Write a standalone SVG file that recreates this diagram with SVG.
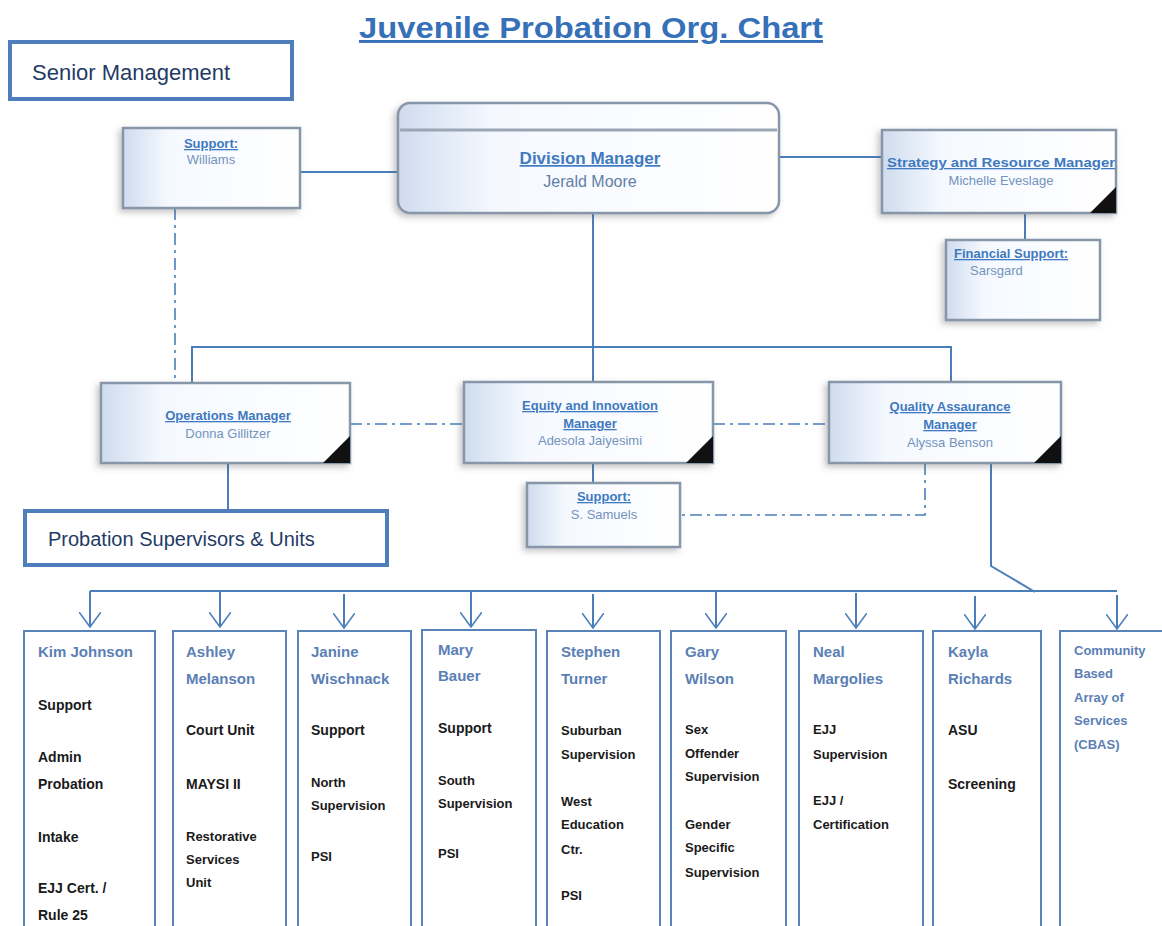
<svg xmlns="http://www.w3.org/2000/svg" width="1162" height="926" viewBox="0 0 1162 926">
<defs>
<linearGradient id="gs" x1="0" y1="0" x2="1" y2="0">
<stop offset="0" stop-color="#cfdcee"/><stop offset="0.25" stop-color="#f5f9ff"/><stop offset="1" stop-color="#ffffff"/>
</linearGradient>
<filter id="sh" x="-10%" y="-10%" width="125%" height="130%">
<feDropShadow dx="-3" dy="3" stdDeviation="3" flood-color="#555" flood-opacity="0.35"/>
</filter>
<marker id="ar" viewBox="0 0 16 22" refX="15" refY="11" markerWidth="16" markerHeight="22" markerUnits="userSpaceOnUse" orient="auto">
<path d="M0,0 L15,11 L0,22" fill="none" stroke="#4a7ebb" stroke-width="1.6"/>
</marker>
</defs>
<style>
.t{font-family:"Liberation Sans",Arial,sans-serif}
.bx{fill:url(#gs);stroke:#8796a8;stroke-width:2.5;filter:url(#sh)}
.ln{fill:none;stroke:#4a7ebb;stroke-width:2}
.dd{fill:none;stroke:#4a7ebb;stroke-width:1.6;stroke-dasharray:12 5 3 5}
.hd{font-family:"Liberation Sans",Arial,sans-serif;font-weight:bold;fill:#3f79c0;text-decoration:underline;font-size:13px}
.nm{font-family:"Liberation Sans",Arial,sans-serif;fill:#7393bd;font-size:13px}
.lb{fill:#fff;stroke:#4f7fba;stroke-width:4}
.col{fill:#fff;stroke:#5a84b8;stroke-width:2}
.cn{font-family:"Liberation Sans",Arial,sans-serif;font-weight:bold;fill:#5b80b5;font-size:15px}
.ci{font-family:"Liberation Sans",Arial,sans-serif;font-weight:bold;fill:#1a1a1a;font-size:14px}
.s13{font-size:13px}
.big{font-size:17px}
.big2{font-size:16px;fill:#5f7fa8}
.cor{fill:#111}
</style>
<rect width="1162" height="926" fill="#fff"/>
<text class="t" x="591" y="38" text-anchor="middle" font-size="29" font-weight="bold" fill="#3570b8" text-decoration="underline" textLength="464" lengthAdjust="spacingAndGlyphs">Juvenile Probation Org. Chart</text>

<g id="connectors">
<path class="ln" d="M300,172 H398"/>
<path class="ln" d="M779,157 H882"/>
<path class="ln" d="M1025,213 V240"/>
<path class="ln" d="M593,213 V347 M192,383 V347 H951 V383 M593,347 V383"/>
<path class="dd" d="M175,208 V382"/>
<path class="dd" d="M350,424 H464"/>
<path class="dd" d="M713,424 H829"/>
<path class="ln" d="M593,463 V483"/>
<path class="dd" d="M925,463 V515 H680"/>
<path class="ln" d="M228,463 V510"/>
<path class="ln" d="M991,463 V566 L1035,592"/>
<path class="ln" d="M90,591 H1117"/>
<path class="ln" marker-end="url(#ar)" d="M90,591 V627"/>
<path class="ln" marker-end="url(#ar)" d="M220,591 V627"/>
<path class="ln" marker-end="url(#ar)" d="M344,594 V628"/>
<path class="ln" marker-end="url(#ar)" d="M471,591 V627"/>
<path class="ln" marker-end="url(#ar)" d="M593,594 V628"/>
<path class="ln" marker-end="url(#ar)" d="M716,591 V628"/>
<path class="ln" marker-end="url(#ar)" d="M856,593 V628"/>
<path class="ln" marker-end="url(#ar)" d="M975,596 V629"/>
<path class="ln" marker-end="url(#ar)" d="M1117,595 V629"/>
</g>

<g id="senior-management">
<rect class="lb" x="10" y="42" width="282" height="57"/>
<text class="t" x="32" y="80" font-size="22" fill="#1f3b66">Senior Management</text>
</g>

<g id="support-williams">
<rect class="bx" x="123" y="128" width="177" height="80"/>
<text class="hd" x="211" y="148" text-anchor="middle">Support:</text>
<text class="nm" x="211" y="164" text-anchor="middle">Williams</text>
</g>

<g id="division-manager">
<rect class="bx" x="398" y="103" width="381" height="110" rx="12"/>
<path d="M400,130 H777" stroke="#9aa6b5" stroke-width="3"/>
<text class="hd big" x="590" y="164" text-anchor="middle">Division Manager</text>
<text class="nm big2" x="590" y="187" text-anchor="middle">Jerald Moore</text>
</g>

<g id="strategy-manager">
<rect class="bx" x="882" y="130" width="234" height="83"/>
<path class="cor" d="M1116,187 V213 H1090 Z"/>
<text class="hd" x="1001" y="167" text-anchor="middle" textLength="228" lengthAdjust="spacingAndGlyphs">Strategy and Resource Manager</text>
<text class="nm" x="1001" y="185" text-anchor="middle">Michelle Eveslage</text>
</g>

<g id="financial-support">
<rect class="bx" x="946" y="240" width="154" height="80"/>
<text class="hd" x="954" y="258">Financial Support:</text>
<text class="nm" x="970" y="275">Sarsgard</text>
</g>

<g id="operations-manager">
<rect class="bx" x="101" y="383" width="249" height="80"/>
<path class="cor" d="M350,436 V463 H323 Z"/>
<text class="hd" x="228" y="420" text-anchor="middle">Operations Manager</text>
<text class="nm" x="228" y="438" text-anchor="middle">Donna Gillitzer</text>
</g>

<g id="equity-manager">
<rect class="bx" x="464" y="382" width="249" height="81"/>
<path class="cor" d="M713,436 V463 H686 Z"/>
<text class="hd" x="590" y="410" text-anchor="middle">Equity and Innovation</text>
<text class="hd" x="590" y="428" text-anchor="middle">Manager</text>
<text class="nm" x="590" y="445" text-anchor="middle">Adesola Jaiyesimi</text>
</g>

<g id="qa-manager">
<rect class="bx" x="829" y="382" width="232" height="81"/>
<path class="cor" d="M1061,436 V463 H1034 Z"/>
<text class="hd" x="950" y="411" text-anchor="middle">Quality Assaurance</text>
<text class="hd" x="950" y="429" text-anchor="middle">Manager</text>
<text class="nm" x="950" y="447" text-anchor="middle">Alyssa Benson</text>
</g>

<g id="support-samuels">
<rect class="bx" x="527" y="483" width="153" height="64"/>
<text class="hd" x="604" y="501" text-anchor="middle">Support:</text>
<text class="nm" x="604" y="519" text-anchor="middle">S. Samuels</text>
</g>

<g id="probation-supervisors">
<rect class="lb" x="25" y="511" width="362" height="54"/>
<text class="t" x="48" y="546" font-size="20" fill="#1f3b66">Probation Supervisors &amp; Units</text>
</g>

<g id="kim-johnson">
<rect class="col" x="24" y="631" width="131" height="310"/>
<text class="cn" x="38" y="657">Kim Johnson</text>
<text class="ci" x="38" y="710">Support</text>
<text class="ci" x="38" y="762">Admin</text>
<text class="ci" x="38" y="789">Probation</text>
<text class="ci" x="38" y="842">Intake</text>
<text class="ci" x="38" y="893">EJJ Cert. /</text>
<text class="ci" x="38" y="920">Rule 25</text>
</g>

<g id="ashley-melanson">
<rect class="col" x="173" y="631" width="113" height="310"/>
<text class="cn" x="186" y="657">Ashley</text>
<text class="cn" x="186" y="684">Melanson</text>
<text class="ci" x="186" y="735">Court Unit</text>
<text class="ci" x="186" y="789">MAYSI II</text>
<text class="ci s13" x="186" y="841">Restorative</text>
<text class="ci s13" x="186" y="864">Services</text>
<text class="ci s13" x="186" y="887">Unit</text>
</g>

<g id="janine-wischnack">
<rect class="col" x="298" y="631" width="113" height="310"/>
<text class="cn" x="311" y="657">Janine</text>
<text class="cn" x="311" y="684">Wischnack</text>
<text class="ci" x="311" y="735">Support</text>
<text class="ci s13" x="311" y="787">North</text>
<text class="ci s13" x="311" y="810">Supervision</text>
<text class="ci s13" x="311" y="861">PSI</text>
</g>

<g id="mary-bauer">
<rect class="col" x="422" y="630" width="114" height="310"/>
<text class="cn" x="438" y="655">Mary</text>
<text class="cn" x="438" y="681">Bauer</text>
<text class="ci" x="438" y="733">Support</text>
<text class="ci s13" x="438" y="785">South</text>
<text class="ci s13" x="438" y="808">Supervision</text>
<text class="ci s13" x="438" y="858">PSI</text>
</g>

<g id="stephen-turner">
<rect class="col" x="547" y="631" width="113" height="310"/>
<text class="cn" x="561" y="657">Stephen</text>
<text class="cn" x="561" y="684">Turner</text>
<text class="ci s13" x="561" y="735">Suburban</text>
<text class="ci s13" x="561" y="759">Supervision</text>
<text class="ci s13" x="561" y="806">West</text>
<text class="ci s13" x="561" y="829">Education</text>
<text class="ci s13" x="561" y="854">Ctr.</text>
<text class="ci s13" x="561" y="900">PSI</text>
</g>

<g id="gary-wilson">
<rect class="col" x="671" y="631" width="115" height="310"/>
<text class="cn" x="685" y="657">Gary</text>
<text class="cn" x="685" y="684">Wilson</text>
<text class="ci s13" x="685" y="734">Sex</text>
<text class="ci s13" x="685" y="758">Offender</text>
<text class="ci s13" x="685" y="781">Supervision</text>
<text class="ci s13" x="685" y="829">Gender</text>
<text class="ci s13" x="685" y="852">Specific</text>
<text class="ci s13" x="685" y="877">Supervision</text>
</g>

<g id="neal-margolies">
<rect class="col" x="799" y="631" width="124" height="310"/>
<text class="cn" x="813" y="657">Neal</text>
<text class="cn" x="813" y="684">Margolies</text>
<text class="ci s13" x="813" y="734">EJJ</text>
<text class="ci s13" x="813" y="759">Supervision</text>
<text class="ci s13" x="813" y="805">EJJ /</text>
<text class="ci s13" x="813" y="829">Certification</text>
</g>

<g id="kayla-richards">
<rect class="col" x="933" y="631" width="108" height="310"/>
<text class="cn" x="948" y="657">Kayla</text>
<text class="cn" x="948" y="684">Richards</text>
<text class="ci" x="948" y="735">ASU</text>
<text class="ci" x="948" y="789">Screening</text>
</g>

<g id="cbas">
<rect class="col" x="1060" y="631" width="110" height="310"/>
<text class="cn s13" x="1074" y="655">Community</text>
<text class="cn s13" x="1074" y="678">Based</text>
<text class="cn s13" x="1074" y="702">Array of</text>
<text class="cn s13" x="1074" y="725">Services</text>
<text class="cn s13" x="1074" y="749">(CBAS)</text>
</g>
</svg>
